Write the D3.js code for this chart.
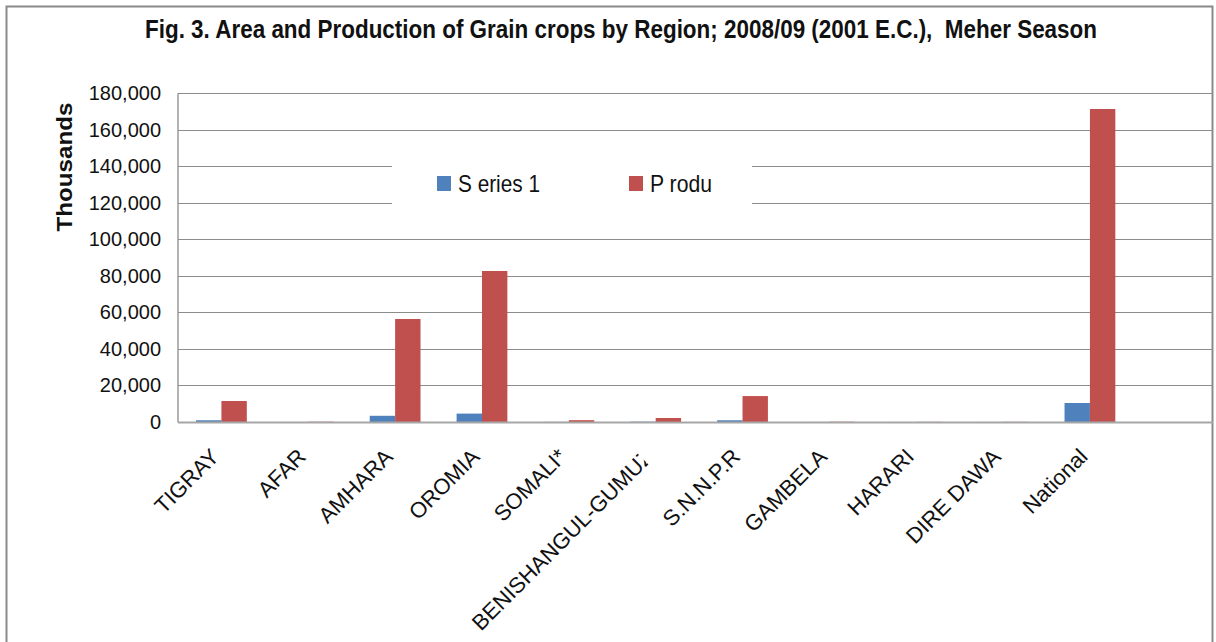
<!DOCTYPE html>
<html>
<head>
<meta charset="utf-8">
<script src="https://cdn.jsdelivr.net/npm/d3@7"></script>
<style>
  html, body { margin: 0; padding: 0; background: #fff; }
  svg { display: block; }
  text { font-family: "Liberation Sans", Arial, sans-serif; }
</style>
</head>
<body>
<svg id="chart" width="1216" height="642"></svg>
<script>
// ---- data ----
const title = "Fig. 3. Area and Production of Grain crops by Region; 2008/09 (2001 E.C.),  Meher Season";
const yTitle = "Thousands";
const categories = ["TIGRAY", "AFAR", "AMHARA", "OROMIA", "SOMALI*", "BENISHANGUL-GUMUZ", "S.N.N.P.R", "GAMBELA", "HARARI", "DIRE DAWA", "National"];
const seriesNames = ["S eries 1", "P rodu"];
const series1 = [950, 20, 3400, 4600, 60, 180, 950, 30, 10, 10, 10400];
const production = [11500, 150, 56400, 82700, 1000, 2200, 14200, 150, 80, 80, 171400];
const yTicks = [0, 20000, 40000, 60000, 80000, 100000, 120000, 140000, 160000, 180000];
const colors = ["#4F81BD", "#C0504D"];

// ---- layout ----
const svg = d3.select("#chart");
const W = 1216, H = 642;
const plotLeft = 178, plotRight = 1213, yTop = 93.3, yBottom = 422;

// outer chart border
svg.append("rect").attr("x", 6.5).attr("y", 6.5).attr("width", 1206).attr("height", 660)
  .attr("fill", "#fff").attr("stroke", "#8a8a8a").attr("stroke-width", 2);

// x scale: 11 categories plus one empty trailing slot (chart is clipped at right border)
const xDomain = categories.concat([""]);
const x = d3.scaleBand().domain(xDomain).range([plotLeft, plotLeft + 12 * 86.85]).paddingInner(0).paddingOuter(0);
const xSub = d3.scaleBand().domain([0, 1]).range([0, x.bandwidth()]).paddingOuter(0.71).paddingInner(0);
const y = d3.scaleLinear().domain([0, 180000]).range([yBottom, yTop]);

const defs = svg.append("defs");
defs.append("clipPath").attr("id", "clip")
  .append("rect").attr("x", plotLeft).attr("y", 0).attr("width", plotRight - plotLeft).attr("height", H);
// label truncation (long category label is cut at its end, as in the original)
defs.append("clipPath").attr("id", "labelclip")
  .append("rect").attr("x", -400).attr("y", -40).attr("width", 391).attr("height", 60);

// gridlines
const grid = svg.append("g").attr("clip-path", "url(#clip)");
grid.selectAll("line.grid").data(yTicks.filter(d => d > 0)).enter().append("line")
  .attr("class", "grid")
  .attr("x1", plotLeft).attr("x2", plotRight)
  .attr("y1", d => Math.round(y(d)) + 0.5).attr("y2", d => Math.round(y(d)) + 0.5)
  .attr("stroke", "#8c8c8c").attr("stroke-width", 1.2);

// bars
const groups = grid.selectAll("g.cat").data(categories).enter().append("g")
  .attr("transform", d => `translate(${x(d)},0)`);
groups.selectAll("rect").data((d, i) => [series1[i], production[i]]).enter().append("rect")
  .attr("x", (d, j) => xSub(j))
  .attr("width", xSub.bandwidth())
  .attr("y", d => y(d))
  .attr("height", d => y(0) - y(d))
  .attr("fill", (d, j) => colors[j]);

// axes lines
svg.append("line").attr("x1", plotLeft).attr("x2", plotLeft).attr("y1", yTop).attr("y2", yBottom + 0.5)
  .attr("stroke", "#8c8c8c").attr("stroke-width", 1.3);
svg.append("line").attr("x1", plotLeft).attr("x2", plotRight).attr("y1", yBottom + 0.5).attr("y2", yBottom + 0.5)
  .attr("stroke", "#a6a6a6").attr("stroke-width", 2);

// y axis labels
const fmt = d3.format(",");
const yAxis = d3.axisLeft(y).tickValues(yTicks).tickFormat(fmt).tickSize(0).tickPadding(17);
const gy = svg.append("g").attr("transform", `translate(${plotLeft},0)`).call(yAxis);
gy.select(".domain").remove();
gy.selectAll("text").attr("font-size", 20).attr("fill", "#111").attr("font-family", "Liberation Sans, Arial, sans-serif");

// x axis labels
const xAxis = d3.axisBottom(x).tickValues(categories).tickSize(0).tickPadding(0);
const gx = svg.append("g").attr("transform", `translate(0,${yBottom})`).call(xAxis);
gx.select(".domain").remove();
gx.selectAll("text")
  .attr("font-size", 22).attr("fill", "#111").attr("font-family", "Liberation Sans, Arial, sans-serif")
  .attr("text-anchor", "end")
  .attr("y", 0).attr("dy", 0)
  .attr("transform", "translate(-1,36) rotate(-45)")
  .attr("clip-path", d => d.length > 12 ? "url(#labelclip)" : null);

// title
svg.append("text").attr("x", 621).attr("y", 38).attr("text-anchor", "middle")
  .attr("font-size", 25).attr("font-weight", "bold").attr("fill", "#111")
  .attr("textLength", 952).attr("lengthAdjust", "spacingAndGlyphs")
  .style("white-space", "pre")
  .text(title);

// y title
svg.append("text").attr("transform", "translate(72,167) rotate(-90)").attr("text-anchor", "middle")
  .attr("font-size", 22).attr("font-weight", "bold").attr("fill", "#111")
  .attr("textLength", 129).attr("lengthAdjust", "spacingAndGlyphs")
  .text(yTitle);

// legend
const lg = svg.append("g");
lg.append("rect").attr("x", 392).attr("y", 156).attr("width", 360).attr("height", 58).attr("fill", "#fff");
const legX = [437, 629];
const legTL = [82, 62];
seriesNames.forEach((name, i) => {
  lg.append("rect").attr("x", legX[i]).attr("y", 176).attr("width", 14).attr("height", 15).attr("fill", colors[i]);
  lg.append("text").attr("x", legX[i] + 21).attr("y", 192)
    .attr("font-size", 24).attr("fill", "#111")
    .attr("textLength", legTL[i]).attr("lengthAdjust", "spacingAndGlyphs")
    .style("white-space", "pre")
    .text(name);
});
</script>
</body>
</html>
